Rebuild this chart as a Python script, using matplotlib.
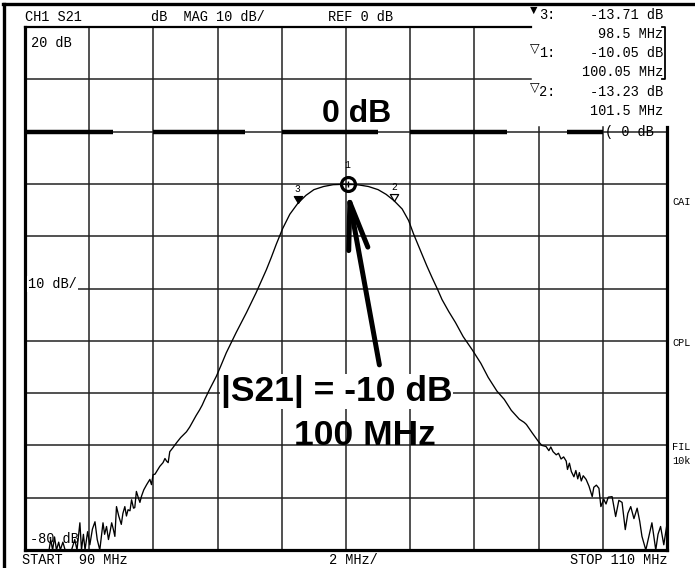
import matplotlib
matplotlib.use('Agg')
import matplotlib.pyplot as plt
from matplotlib.lines import Line2D
from matplotlib.path import Path

# S21 trace
freq_mhz = [90.00, 90.40, 90.75, 90.80, 90.86, 90.92, 90.98, 91.05, 91.10, 91.18,
            91.25, 91.45, 91.55, 91.62, 91.71, 91.76, 91.82, 91.87, 91.95, 92.02,
            92.10, 92.18, 92.25, 92.33, 92.43, 92.48, 92.54, 92.60, 92.65, 92.70,
            92.75, 92.80, 92.85, 92.92, 93.00, 93.05, 93.11, 93.16, 93.21, 93.27,
            93.32, 93.38, 93.42, 93.47, 93.53, 93.58, 93.63, 93.70, 93.79, 93.84,
            93.89, 93.94, 93.99, 94.05, 94.10, 94.20, 94.30, 94.36, 94.41, 94.46,
            94.51, 94.60, 94.72, 94.85, 95.03, 95.13, 95.23, 95.33, 95.44, 95.52,
            95.60, 95.75, 95.96, 96.10, 96.27, 96.42, 96.58, 96.74, 96.90, 97.05,
            97.20, 97.36, 97.52, 97.67, 97.83, 98.03, 98.25, 98.50, 98.75, 99.00,
            99.30, 99.60, 100.05, 100.40, 100.70, 101.00, 101.25, 101.50, 101.75, 101.95,
            102.10, 102.22, 102.37, 102.52, 102.68, 102.84, 102.99, 103.20, 103.41, 103.65,
            103.93, 104.20, 104.43, 104.70, 104.93, 105.15, 105.40, 105.55, 105.62, 105.80,
            106.00, 106.10, 106.23, 106.32, 106.38, 106.45, 106.55, 106.62, 106.70, 106.78,
            106.86, 106.90, 106.96, 107.02, 107.10, 107.16, 107.22, 107.27, 107.33, 107.39,
            107.48, 107.57, 107.67, 107.72, 107.80, 107.88, 107.94, 108.03, 108.10, 108.17,
            108.29, 108.40, 108.50, 108.60, 108.70, 108.78, 108.87, 108.97, 109.07, 109.15,
            109.22, 109.34, 109.45, 109.53, 109.65, 109.72, 109.80, 109.90, 110.00]
s21_db = [-80, -80, -80, -78, -80, -77.5, -80, -78.5, -80, -78.5,
          -80, -80, -78, -80, -74.8, -80, -77, -80, -76.5, -79,
          -76, -74.6, -78, -80, -74.8, -77, -75.5, -78, -76.5, -74.8,
          -76, -77.4, -71.7, -73.5, -75.1, -73, -71.7, -73.5, -72.3, -72.5,
          -70.4, -72, -71.9, -68.8, -70, -70.9, -69.7, -68.5, -67.5, -67,
          -66.5, -67.5, -65.6, -65.5, -65, -64, -63.3, -62.5, -63, -63.3,
          -61.2, -60.5, -59.5, -58.5, -57.4, -56.5, -55.4, -54.3, -53.2, -52.3,
          -51.2, -49.3, -46.8, -44.8, -42.3, -40.4, -38.4, -36.5, -34.6, -32.7,
          -30.8, -28.6, -26.4, -24.1, -21.5, -18.5, -15.8, -13.71, -12.2, -11.1,
          -10.5, -10.15, -10.05, -10.2, -10.5, -11.1, -12.0, -13.23, -14.8, -17.0,
          -19.5, -21.3, -23.5, -25.7, -27.9, -30.0, -32.1, -34.4, -36.5, -39.2,
          -41.7, -44.3, -47.0, -49.6, -51.2, -53.3, -55.0, -55.6, -56.0, -57.6,
          -59.3, -60.0, -60.2, -61.0, -60.3, -61.2, -61.8, -61.5, -62.6, -62.2,
          -63.0, -64.6, -63.4, -65.0, -66.0, -64.8, -66.4, -65.2, -66.8, -65.8,
          -66.5, -67.8, -69.8, -68.0, -67.6, -68.2, -71.7, -70.3, -71.2, -69.9,
          -69.8, -73.6, -70.5, -70.9, -76.1, -73.0, -71.7, -74.0, -72.0, -74.5,
          -77.4, -80.0, -77.0, -74.8, -80.0, -77.0, -75.5, -79.0, -75.0]

# markers
mk_names = ['1', '2', '3']
mk_freq = [100.05, 101.5, 98.5]
mk_db = [-10.05, -13.23, -13.71]
mk_filled = [False, False, True]

# heavy dashes of the reference (0 dB) line
ref_start = [90.0, 94.0, 98.0, 102.0, 106.9]
ref_stop = [92.75, 96.85, 101.0, 105.0, 108.0]

x_grid = [92, 94, 96, 98, 100, 102, 104, 106, 108]
y_grid = [10, 0, -10, -20, -30, -40, -50, -60, -70]

W, H = 695, 568
MONO = ['Liberation Mono', 'DejaVu Sans']
BOLD = 'Liberation Sans'


def fx(x):
    return x / W


def fy(y):
    return 1 - y / H


def mono(x, y, s, ha='left', size=9.8, **kw):
    fig.text(fx(x), fy(y), s, ha=ha, va='center', family=MONO, fontsize=size,
             color='black', **kw)


fig = plt.figure(figsize=(W / 100, H / 100), dpi=100)
fig.patch.set_facecolor('white')

# outer frame of the print
fig.add_artist(Line2D([fx(4), fx(4)], [0, fy(4)], color='black', lw=2.4))
fig.add_artist(Line2D([fx(3), 1], [fy(4), fy(4)], color='black', lw=2.4))

ax = fig.add_axes([fx(25), fy(550), (667 - 25) / W, (550 - 27) / H])
ax.set_xlim(90, 110)
ax.set_ylim(-80, 20)
ax.set_xticks([])
ax.set_yticks([])

top_cut = 105.77          # marker readout blanks the upper right corner
for name in ['left', 'bottom', 'right']:
    ax.spines[name].set_linewidth(2.3)
ax.spines['top'].set_linewidth(1.6)
ax.spines['top'].set_bounds(90, top_cut)
ax.spines['right'].set_bounds(-80, 0.9)
ax.plot([0.992, 0.997, 0.997, 0.992], [1, 1, 0.9, 0.9], color='black', lw=1.3,
        transform=ax.transAxes, clip_on=False)

for x in x_grid:
    ymax = 1 if x < top_cut else 0.809
    ax.axvline(x, ymax=ymax, color='#222222', lw=1.1, zorder=1)
for y in y_grid:
    xmax = (top_cut - 90) / 20 if y > 0 else 1
    ax.axhline(y, xmax=xmax, color='#222222', lw=1.1, zorder=1)

# reference level heavy dashes
for a, b in zip(ref_start, ref_stop):
    ax.plot([a, b], [0, 0], color='black', lw=3.2, solid_capstyle='butt', zorder=2)

ax.plot(freq_mhz, s21_db, color='black', lw=0.95, zorder=3)

# marker symbols, tip on the trace
tri = Path([(0, 0), (-0.6, 1), (0.6, 1), (0, 0)],
           [Path.MOVETO, Path.LINETO, Path.LINETO, Path.CLOSEPOLY])
for name, f, d, filled in zip(mk_names, mk_freq, mk_db, mk_filled):
    if name == '1':
        ax.plot(f, d, 'o', ms=10, mfc='none', mec='black', mew=2.3, zorder=5)
        ax.plot(f, d, '+', ms=4, mec='black', mew=1.0, zorder=5)
        ax.annotate(name, (f, d), xytext=(0, 10), textcoords='offset points',
                    ha='center', va='bottom', fontsize=7, family=MONO)
    else:
        ax.plot(f, d, marker=tri, ms=10, mfc='black' if filled else 'white',
                mec='black', mew=0.9, zorder=5)
        ax.annotate(name, (f, d), xytext=(0, 6.5), textcoords='offset points',
                    ha='center', va='bottom', fontsize=7, family=MONO)

# pointer arrow to the 100 MHz marker
ax.annotate('', xy=(100.05, -11.2), xytext=(101.04, -44.6),
            arrowprops=dict(arrowstyle='->,head_length=3.4,head_width=0.7',
                            lw=3.6, color='black', shrinkA=0, shrinkB=0,
                            mutation_scale=10), zorder=6)

# big annotations
fig.text(fx(322), fy(122), '0 dB', ha='left', va='baseline', family=BOLD,
         fontweight='bold', fontsize=23)
fig.text(fx(221), fy(401), '|S21| = -10 dB', ha='left', va='baseline', family=BOLD,
         fontweight='bold', fontsize=25.5,
         bbox=dict(facecolor='white', edgecolor='none', pad=0.5))
fig.text(fx(294), fy(445), '100 MHz', ha='left', va='baseline', family=BOLD,
         fontweight='bold', fontsize=25.5)

# header line
mono(25, 17, 'CH1 S21')
mono(151, 17, 'dB  MAG 10 dB/')
mono(328, 17, 'REF 0 dB')

# marker readout
readout = [('▼', '3:', '-13.71 dB', '98.5 MHz', 15),
           ('▽', '1:', '-10.05 dB', '100.05 MHz', 53),
           ('▽', '2:', '-13.23 dB', '101.5 MHz', 92)]
for sym, num, lvl, frq, y in readout:
    mono(530, y - 4, sym, size=9)
    mono(539, y, num)
    mono(663, y, lvl, ha='right')
    mono(663, y + 19, frq, ha='right')

# in-grid labels
mono(31, 43, '20 dB')
mono(28, 284, '10 dB/', bbox=dict(facecolor='white', edgecolor='none', pad=0.6))
mono(30, 539, '-80 dB')
mono(605, 132, '( 0 dB')

# bottom line
mono(22, 560, 'START  90 MHz')
mono(353, 560, '2 MHz/', ha='center')
mono(667, 560, 'STOP 110 MHz', ha='right')

# right-side softkey labels (cut off by the scan edge in the original)
for lab, y in [('CAI', 202), ('CPL', 343), ('FIL', 447), ('10k', 461)]:
    mono(672, y, lab, size=7.4)

fig.savefig('out.png', dpi=100, facecolor='white')
